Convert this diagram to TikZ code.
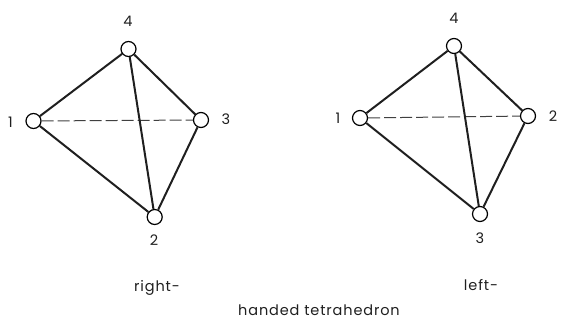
\documentclass[tikz,border=0pt]{standalone}
\usepackage{fontspec}
\setmainfont[LetterSpace=6]{Poppins}
\tikzset{vertex/.style={circle,draw,line width=1.2pt,fill=white,inner sep=0pt,minimum size=15pt},
edge/.style={line width=2pt,black!88},
hid/.style={line width=1pt,dash pattern=on 12pt off 4pt,black!75},
lab/.style={font=\fontsize{14.5}{16}\selectfont,text=black!88,inner sep=0pt}}
\begin{document}
\begin{tikzpicture}[x=1pt,y=-1pt]
\useasboundingbox (0,0) rectangle (561,320);
\node[vertex] (a1) at (33.5,121) {};
\node[vertex] (a2) at (154.7,217) {};
\node[vertex] (a3) at (201,120) {};
\node[vertex] (a4) at (128.5,49) {};
\node[vertex] (b1) at (360,118) {};
\node[vertex] (b2) at (528,116) {};
\node[vertex] (b3) at (480,214) {};
\node[vertex] (b4) at (454,46) {};
\draw[hid] (a1) -- (a3);
\draw[edge] (a1) -- (a4) (a4) -- (a3) (a3) -- (a2) (a2) -- (a1) (a4) -- (a2);
\draw[hid] (b1) -- (b2);
\draw[edge] (b1) -- (b4) (b4) -- (b2) (b2) -- (b3) (b3) -- (b1) (b4) -- (b3);
\node[lab] (l1) at (10.5,122) {1};
\node[lab] (l2) at (154,240) {2};
\node[lab] (l3) at (226,119) {3};
\node[lab] (l4) at (128,21) {4};
\node[lab] (m1) at (338,118) {1};
\node[lab] (m2) at (553,116) {2};
\node[lab] (m3) at (480,238) {3};
\node[lab] (m4) at (454,18) {4};
\node[lab] (t1) at (157,288) {right-};
\node[lab] (t2) at (481,285) {left-};
\node[lab] (t3) at (319,310) {handed tetrahedron};
\end{tikzpicture}
\end{document}
